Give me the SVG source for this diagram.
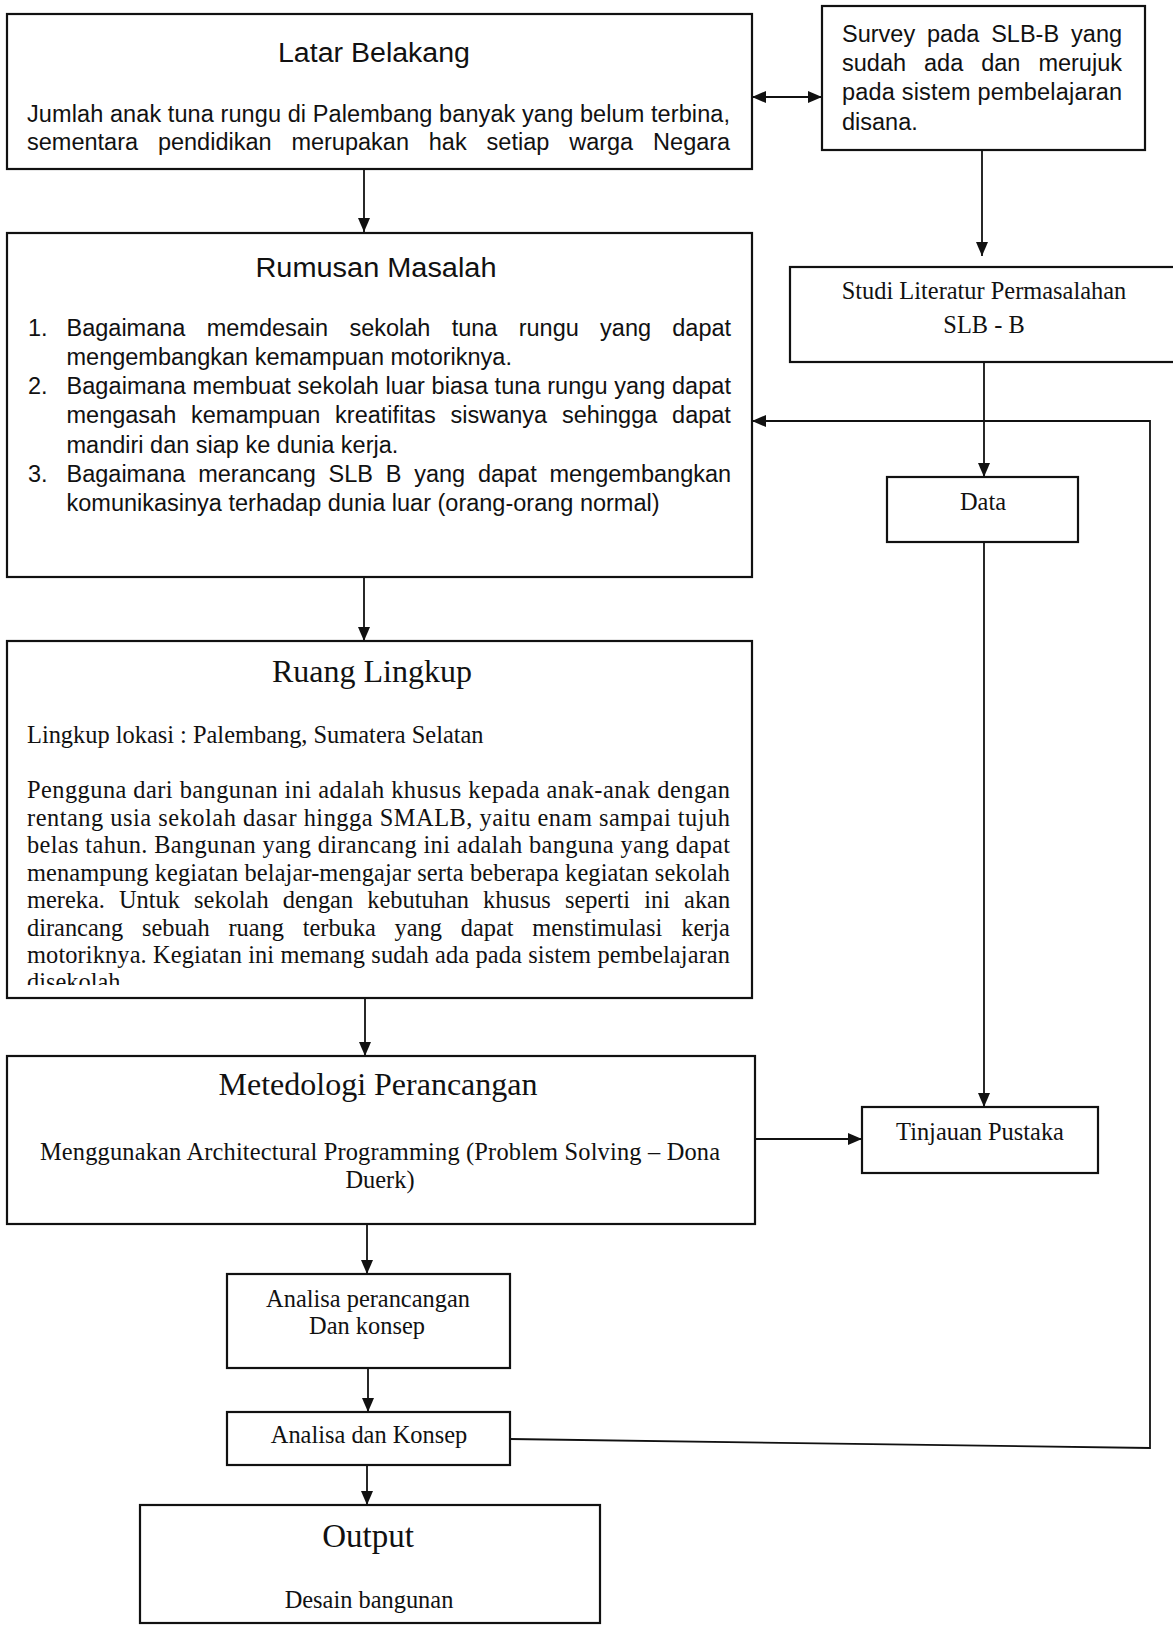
<svg xmlns="http://www.w3.org/2000/svg" width="1173" height="1627" viewBox="0 0 1173 1627">
<style>
.box{fill:#fff;stroke:#111;stroke-width:2.2}
.cal{font-family:"Liberation Sans",Arial,sans-serif;font-size:23.5px;fill:#111}
.calt{font-family:"Liberation Sans",Arial,sans-serif;font-size:27px;fill:#111}
.tnr{font-family:"Liberation Serif","Times New Roman",serif;font-size:24.4px;fill:#111}
.tnrt{font-family:"Liberation Serif","Times New Roman",serif;font-size:32px;fill:#111}
.mid{text-anchor:middle}
.conn{fill:none;stroke:#111;stroke-width:1.8}
</style>
<defs>
<marker id="ah" markerUnits="userSpaceOnUse" markerWidth="14" markerHeight="12" refX="14" refY="6" orient="auto-start-reverse">
<path d="M0,0 L14,6 L0,12 z" fill="#111"/>
</marker>
<clipPath id="clipRuang"><rect x="0" y="960" width="760" height="25"/></clipPath>
</defs>
<rect width="1173" height="1627" fill="#fff"/>

<g id="connectors">
<path class="conn" d="M364,169 V232" marker-end="url(#ah)"/>
<path class="conn" d="M752,97 H822" marker-start="url(#ah)" marker-end="url(#ah)"/>
<path class="conn" d="M982,150 V256" marker-end="url(#ah)"/>
<path class="conn" d="M984,362 V477" marker-end="url(#ah)"/>
<path class="conn" d="M984,542 V1107" marker-end="url(#ah)"/>
<path class="conn" d="M364,577 V641" marker-end="url(#ah)"/>
<path class="conn" d="M365,998 V1056" marker-end="url(#ah)"/>
<path class="conn" d="M755,1139 H862" marker-end="url(#ah)"/>
<path class="conn" d="M367,1224 V1274" marker-end="url(#ah)"/>
<path class="conn" d="M368,1368 V1412" marker-end="url(#ah)"/>
<path class="conn" d="M367,1465 V1505" marker-end="url(#ah)"/>
<path class="conn" d="M510,1439 L1150,1448 V421 H752" marker-end="url(#ah)"/>
</g>

<g id="latar-belakang">
<rect class="box" x="7" y="14" width="745" height="155"/>
<text class="calt mid" x="374" y="62" textLength="192" lengthAdjust="spacingAndGlyphs">Latar Belakang</text>
<text class="cal" x="27" y="122" textLength="703" lengthAdjust="spacing">Jumlah anak tuna rungu di Palembang banyak yang belum terbina,</text>
<text class="cal" y="150"><tspan x="27">sementara</tspan><tspan x="157.9">pendidikan</tspan><tspan x="291.4">merupakan</tspan><tspan x="428.8">hak</tspan><tspan x="486.6">setiap</tspan><tspan x="569.2">warga</tspan><tspan x="653.1">Negara</tspan></text>
</g>

<g id="survey">
<rect class="box" x="822" y="6" width="323" height="144"/>
<text class="cal" y="42"><tspan x="842">Survey</tspan><tspan x="927">pada</tspan><tspan x="991.2">SLB-B</tspan><tspan x="1071.1">yang</tspan></text>
<text class="cal" y="71"><tspan x="842">sudah</tspan><tspan x="924">ada</tspan><tspan x="981.2">dan</tspan><tspan x="1038.4">merujuk</tspan></text>
<text class="cal" x="842" y="100" textLength="280" lengthAdjust="spacing">pada sistem pembelajaran</text>
<text class="cal" x="842" y="130">disana.</text>
</g>

<g id="rumusan-masalah">
<rect class="box" x="7" y="233" width="745" height="344"/>
<text class="calt mid" x="376" y="277" textLength="241" lengthAdjust="spacingAndGlyphs">Rumusan Masalah</text>
<text class="cal" x="28" y="336">1.</text>
<text class="cal" y="336"><tspan x="66.5">Bagaimana</tspan><tspan x="206.7">memdesain</tspan><tspan x="349.4">sekolah</tspan><tspan x="451.7">tuna</tspan><tspan x="518.7">rungu</tspan><tspan x="600.1">yang</tspan><tspan x="672.3">dapat</tspan></text>
<text class="cal" x="66.5" y="365">mengembangkan kemampuan motoriknya.</text>
<text class="cal" x="28" y="394">2.</text>
<text class="cal" x="66.5" y="394" textLength="664.5" lengthAdjust="spacing">Bagaimana membuat sekolah luar biasa tuna rungu yang dapat</text>
<text class="cal" y="423"><tspan x="66.5">mengasah</tspan><tspan x="191">kemampuan</tspan><tspan x="335.1">kreatifitas</tspan><tspan x="450.5">siswanya</tspan><tspan x="561.9">sehingga</tspan><tspan x="672.1">dapat</tspan></text>
<text class="cal" x="66.5" y="453">mandiri dan siap ke dunia kerja.</text>
<text class="cal" x="28" y="482">3.</text>
<text class="cal" y="482"><tspan x="66.5">Bagaimana</tspan><tspan x="198.2">merancang</tspan><tspan x="328.5">SLB</tspan><tspan x="385.7">B</tspan><tspan x="414.2">yang</tspan><tspan x="477.9">dapat</tspan><tspan x="549.5">mengembangkan</tspan></text>
<text class="cal" x="66.5" y="511">komunikasinya terhadap dunia luar (orang-orang normal)</text>
</g>

<g id="studi-literatur">
<rect class="box" x="790" y="267" width="400" height="95"/>
<text class="tnr mid" x="984" y="299">Studi Literatur Permasalahan</text>
<text class="tnr mid" x="984" y="333">SLB - B</text>
</g>

<g id="data">
<rect class="box" x="887" y="477" width="191" height="65"/>
<text class="tnr mid" x="983" y="510">Data</text>
</g>

<g id="ruang-lingkup">
<rect class="box" x="7" y="641" width="745" height="357"/>
<text class="tnrt mid" x="372" y="682">Ruang Lingkup</text>
<text class="tnr" x="27" y="743">Lingkup lokasi : Palembang, Sumatera Selatan</text>
<text class="tnr" x="27" y="798" textLength="703" lengthAdjust="spacing">Pengguna dari bangunan ini adalah khusus kepada anak-anak dengan</text>
<text class="tnr" x="27" y="825.5" textLength="703" lengthAdjust="spacing">rentang usia sekolah dasar hingga SMALB, yaitu enam sampai tujuh</text>
<text class="tnr" x="27" y="853" textLength="703" lengthAdjust="spacing">belas tahun. Bangunan yang dirancang ini adalah banguna yang dapat</text>
<text class="tnr" x="27" y="880.5" textLength="703" lengthAdjust="spacing">menampung kegiatan belajar-mengajar serta beberapa kegiatan sekolah</text>
<text class="tnr" y="908"><tspan x="27">mereka.</tspan><tspan x="119">Untuk</tspan><tspan x="194.1">sekolah</tspan><tspan x="282.7">dengan</tspan><tspan x="367.3">kebutuhan</tspan><tspan x="483.1">khusus</tspan><tspan x="565">seperti</tspan><tspan x="644.2">ini</tspan><tspan x="684.1">akan</tspan></text>
<text class="tnr" y="935.5"><tspan x="27">dirancang</tspan><tspan x="141.9">sebuah</tspan><tspan x="228.4">ruang</tspan><tspan x="302.7">terbuka</tspan><tspan x="394.6">yang</tspan><tspan x="460.7">dapat</tspan><tspan x="532.3">menstimulasi</tspan><tspan x="681.2">kerja</tspan></text>
<text class="tnr" x="27" y="963" textLength="703" lengthAdjust="spacing">motoriknya. Kegiatan ini memang sudah ada pada sistem pembelajaran</text>
<text class="tnr" x="27" y="990" clip-path="url(#clipRuang)">disekolah</text>
</g>

<g id="metedologi-perancangan">
<rect class="box" x="7" y="1056" width="748" height="168"/>
<text class="tnrt mid" x="378" y="1095">Metedologi Perancangan</text>
<text class="tnr mid" x="380" y="1160" textLength="680" lengthAdjust="spacing">Menggunakan Architectural Programming (Problem Solving – Dona</text>
<text class="tnr mid" x="380" y="1188">Duerk)</text>
</g>

<g id="tinjauan-pustaka">
<rect class="box" x="862" y="1107" width="236" height="66"/>
<text class="tnr mid" x="980" y="1140">Tinjauan Pustaka</text>
</g>

<g id="analisa-perancangan">
<rect class="box" x="227" y="1274" width="283" height="94"/>
<text class="tnr mid" x="368" y="1307">Analisa perancangan</text>
<text class="tnr mid" x="367" y="1334">Dan konsep</text>
</g>

<g id="analisa-dan-konsep">
<rect class="box" x="227" y="1412" width="283" height="53"/>
<text class="tnr mid" x="369" y="1443">Analisa dan Konsep</text>
</g>

<g id="output">
<rect class="box" x="140" y="1505" width="460" height="118"/>
<text class="tnrt mid" x="368" y="1547" style="font-size:33px">Output</text>
<text class="tnr mid" x="369" y="1608">Desain bangunan</text>
</g>
</svg>
